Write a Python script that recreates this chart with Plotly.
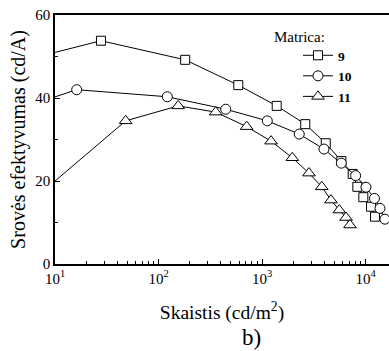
import plotly.graph_objects as go

# Luminance (cd/m^2) and current efficiency (cd/A) for each matrix
lum_9 = [7, 27.8, 181, 590, 1387, 2618, 4130, 5840, 7520, 8340, 9530, 11300, 12360]
eff_9 = [50.0, 53.8, 49.2, 43.1, 38.1, 33.7, 29.1, 24.8, 21.7, 18.6, 16.1, 13.8, 11.4]

lum_10 = [7, 16.2, 121.6, 446, 1125, 2290, 3970, 5840, 8030, 10100, 12200, 13800, 15400]
eff_10 = [39.0, 42.0, 40.3, 37.3, 34.5, 31.3, 27.7, 24.3, 21.3, 18.5, 15.8, 13.4, 10.8]

lum_11 = [7, 48.2, 155, 357, 711, 1223, 1963, 2843, 3780, 4640, 5580, 6490, 7080]
eff_11 = [16.7, 34.5, 38.1, 36.6, 33.1, 29.6, 25.6, 21.9, 18.6, 15.4, 13.0, 11.2, 9.4]

x_tickvals = [10, 100, 1000, 10000]
x_ticktext = ["10<sup>1</sup>", "10<sup>2</sup>", "10<sup>3</sup>", "10<sup>4</sup>"]
x_minorvals = [m * 10 ** e for e in (1, 2, 3, 4) for m in range(2, 10)]
y_tickvals = [0, 20, 40, 60]
y_minorvals = [10, 30, 50]

series = [
    ("9", lum_9, eff_9, "square", 9),
    ("10", lum_10, eff_10, "circle", 10),
    ("11", lum_11, eff_11, "triangle-up", 11),
]

FONT = "Liberation Serif"

fig = go.Figure()
for name, x, y, sym, size in series:
    fig.add_trace(go.Scatter(
        x=x, y=y, name="<b>" + name + "</b>", mode="lines+markers",
        line=dict(color="black", width=1),
        marker=dict(symbol=sym, size=size, color="white",
                    line=dict(color="black", width=1)),
    ))

# invisible carrier trace for the minor-tick overlay axes
fig.add_trace(go.Scatter(x=[10], y=[0], xaxis="x2", yaxis="y2", mode="markers",
                         marker=dict(opacity=0), showlegend=False, hoverinfo="skip"))


def px_x(p):
    return (p - 55) / 334


def px_y(p):
    return (264 - p) / 249


fig.update_layout(
    width=389, height=351,
    margin=dict(l=55, r=0, t=15, b=87),
    paper_bgcolor="white", plot_bgcolor="white",
    font=dict(family=FONT, color="black"),
    showlegend=True,
    legend=dict(
        x=px_x(298), y=px_y(40), xanchor="left", yanchor="top",
        bgcolor="rgba(0,0,0,0)",
        font=dict(family=FONT, size=13.5, color="black"),
        itemwidth=30, tracegroupgap=0,
    ),
    annotations=[
        dict(text="Matrica:", x=px_x(272), y=px_y(37), xref="paper", yref="paper",
             showarrow=False, xanchor="left", yanchor="middle",
             font=dict(family=FONT, size=15, color="black")),
        dict(text="b)", x=px_x(251), y=px_y(337), xref="paper", yref="paper",
             showarrow=False, xanchor="center", yanchor="middle",
             font=dict(family=FONT, size=23, color="black")),
    ],
    xaxis2=dict(type="log", range=[1, 4.227], overlaying="x", side="bottom",
                tickvals=x_minorvals, showticklabels=False,
                ticks="inside", ticklen=3, tickcolor="black",
                showgrid=False, zeroline=False, showline=False),
    yaxis2=dict(range=[0, 60], overlaying="y", side="left",
                tickvals=y_minorvals, showticklabels=False,
                ticks="inside", ticklen=3, tickcolor="black",
                showgrid=False, zeroline=False, showline=False),
)

fig.update_layout(xaxis=dict(
    type="log", range=[1, 4.227],
    tickvals=x_tickvals, ticktext=x_ticktext,
    ticks="inside", ticklen=5, tickwidth=1, tickcolor="black",
    showline=True, linecolor="black", linewidth=1.5, mirror=True,
    showgrid=False, zeroline=False,
    tickfont=dict(family=FONT, size=15, color="black"),
    title=dict(text="Skaistis (cd/m<sup>2</sup>)", standoff=20,
               font=dict(family=FONT, size=19.5, color="black")),
))
fig.update_layout(yaxis=dict(
    range=[0, 60], tickvals=y_tickvals,
    ticks="inside", ticklen=5, tickwidth=1, tickcolor="black",
    showline=True, linecolor="black", linewidth=1.5,
    showgrid=False, zeroline=False,
    tickfont=dict(family=FONT, size=15, color="black"),
    title=dict(text="Srovės efektyvumas (cd/A)", standoff=4,
               font=dict(family=FONT, size=20, color="black")),
))

fig.write_html("out.html")
